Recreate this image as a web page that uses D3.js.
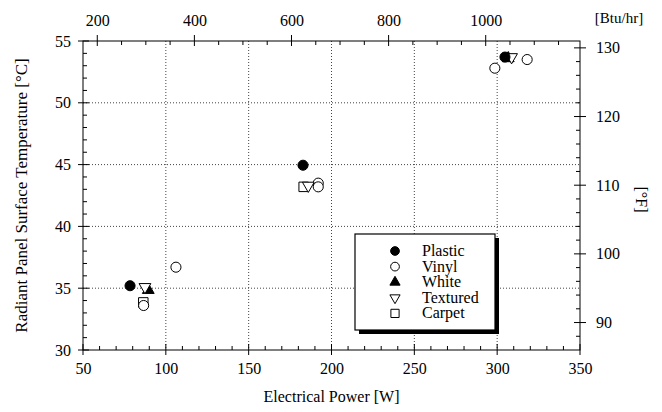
<!DOCTYPE html>
<html><head><meta charset="utf-8">
<script src="https://cdn.jsdelivr.net/npm/d3@7/dist/d3.min.js"></script>
<style>body{margin:0;background:#fff}svg{display:block}text{font-family:"Liberation Serif","Times New Roman",serif;fill:#000}</style>
</head><body><svg id="c" width="662" height="412"></svg>
<script>
// Data: [Electrical Power W, Surface Temperature °C]
const series = ["Plastic","Vinyl","White","Textured","Carpet"];
const plastic  = [[78.4,35.2],[182.8,44.95],[304.7,53.7]];
const vinyl    = [[106.1,36.7],[86.6,33.6],[192,43.5],[192,43.2],[298.6,52.8],[318.1,53.5]];
const white    = [[89.4,34.85],[306.7,53.6]];
const textured = [[87.4,35.1],[186,43.3],[308.7,53.7]];
const carpet   = [[86.4,33.85],[183.2,43.2]];
const xTicks = [50,100,150,200,250,300,350];
const yTicks = [30,35,40,45,50,55];
const btuTicks = [200,400,600,800,1000];
const fTicks = [90,100,110,120,130];

const svg = d3.select("#c");
const L=83,R=580,T=41,B=350;
const x = d3.scaleLinear().domain([50,350]).range([L,R]);
const y = d3.scaleLinear().domain([30,55]).range([B,T]);
const W2B = 3.412;
const xb = d3.scaleLinear().domain([50*W2B,350*W2B]).range([L,R]);
const yf = d3.scaleLinear().domain([30*1.8+32,55*1.8+32]).range([B,T]);
const FONT='"Liberation Serif","Times New Roman",serif';

// gridlines
const g = svg.append("g").attr("stroke","#444").attr("stroke-width",1).attr("stroke-dasharray","1,2");
[100,150,200,250,300].forEach(v=>g.append("line").attr("x1",x(v)).attr("x2",x(v)).attr("y1",T).attr("y2",B));
[35,40,45,50].forEach(v=>g.append("line").attr("y1",y(v)).attr("y2",y(v)).attr("x1",L).attr("x2",R));

const fmt = d3.format("d");
const gb = svg.append("g").attr("transform",`translate(0,${B})`).call(d3.axisBottom(x).tickValues(xTicks).tickFormat(fmt).tickSize(0).tickPadding(13));
const gl = svg.append("g").attr("transform",`translate(${L},0)`).call(d3.axisLeft(y).tickValues(yTicks).tickFormat(fmt).tickSize(0).tickPadding(12));
const gt = svg.append("g").attr("transform",`translate(0,${T})`).call(d3.axisTop(xb).tickValues(btuTicks).tickFormat(fmt).tickSize(0).tickPadding(15));
const gr = svg.append("g").attr("transform",`translate(${R},0)`).call(d3.axisRight(yf).tickValues(fTicks).tickFormat(fmt).tickSize(0).tickPadding(16));
[gb,gl,gt,gr].forEach(a=>{a.attr("font-family",FONT).attr("font-size",16);a.select(".domain").remove();a.selectAll("text").style("font-size","16px").style("font-family",FONT).attr("fill","#000");});

// frame
svg.append("rect").attr("x",L).attr("y",T).attr("width",R-L).attr("height",B-T).attr("fill","none").attr("stroke","#000").attr("stroke-width",1);

const tk = svg.append("g").attr("stroke","#000").attr("stroke-width",1);
d3.range(50,351,10).forEach(v=>{const maj=v%50===0;tk.append("line").attr("x1",x(v)).attr("x2",x(v)).attr("y1",B+(maj?5:0)).attr("y2",B-(maj?6:4));});
d3.range(30,55.01,1).forEach(v=>{const maj=v%5===0;tk.append("line").attr("y1",y(v)).attr("y2",y(v)).attr("x1",L-(maj?5:0)).attr("x2",L+(maj?6:4));});
d3.range(200,1151,50).forEach(v=>{const maj=v%200===0;tk.append("line").attr("x1",xb(v)).attr("x2",xb(v)).attr("y1",T-(maj?6:0)).attr("y2",T+(maj?5:4));});
d3.range(88,131,2).forEach(v=>{const maj=v%10===0;tk.append("line").attr("y1",yf(v)).attr("y2",yf(v)).attr("x1",R+(maj?6:0)).attr("x2",R-(maj?6:4));});

// titles
svg.append("text").attr("x",(L+R)/2).attr("y",402).attr("text-anchor","middle").style("font-size","16px").text("Electrical Power [W]");
svg.append("text").attr("transform",`translate(27,${(T+B)/2}) rotate(-90)`).attr("text-anchor","middle").style("font-size","17px").text("Radiant Panel Surface Temperature [°C]");
svg.append("text").attr("x",619).attr("y",23).attr("text-anchor","middle").style("font-size","15px").text("[Btu/hr]");
svg.append("text").attr("transform",`translate(636,${(T+B)/2+4}) rotate(90)`).attr("text-anchor","middle").style("font-size","16px").text("[°F]");

// markers
const sym = {
  Plastic:{t:d3.symbolCircle,s:80,fill:"#000",rot:0},
  Vinyl:{t:d3.symbolCircle,s:80,fill:"#fff",rot:0},
  White:{t:d3.symbolTriangle,s:60,fill:"#000",rot:0},
  Textured:{t:d3.symbolTriangle,s:60,fill:"#fff",rot:180},
  Carpet:{t:d3.symbolSquare,s:90,fill:"#fff",rot:0}
};
const dataBy = {Plastic:plastic,Vinyl:vinyl,White:white,Textured:textured,Carpet:carpet};
const order = ["Carpet","Vinyl","White","Textured","Plastic"];
const mg = svg.append("g");
function marker(sel,name,px,py,k){
  const s=sym[name];
  sel.append("path").attr("d",d3.symbol().type(s.t).size(s.s*(k||1))())
    .attr("transform",`translate(${px},${py}) rotate(${s.rot})`)
    .attr("fill",s.fill).attr("stroke","#000").attr("stroke-width",1);
}
order.forEach(n=>dataBy[n].forEach(d=>marker(mg,n,x(d[0]),y(d[1]))));

// legend
const lx=355,ly=234,lw=140,lh=96;
svg.append("rect").attr("x",lx+4).attr("y",ly+4).attr("width",lw).attr("height",lh).attr("fill","#000");
svg.append("rect").attr("x",lx).attr("y",ly).attr("width",lw).attr("height",lh).attr("fill","#fff").attr("stroke","#000").attr("stroke-width",1.2);
series.forEach((n,i)=>{
  const yy=ly+17+i*15.6;
  marker(svg,n,lx+40,yy,0.75);
  svg.append("text").attr("x",lx+67).attr("y",yy+5).style("font-size","16px").text(n);
});
</script></body></html>
